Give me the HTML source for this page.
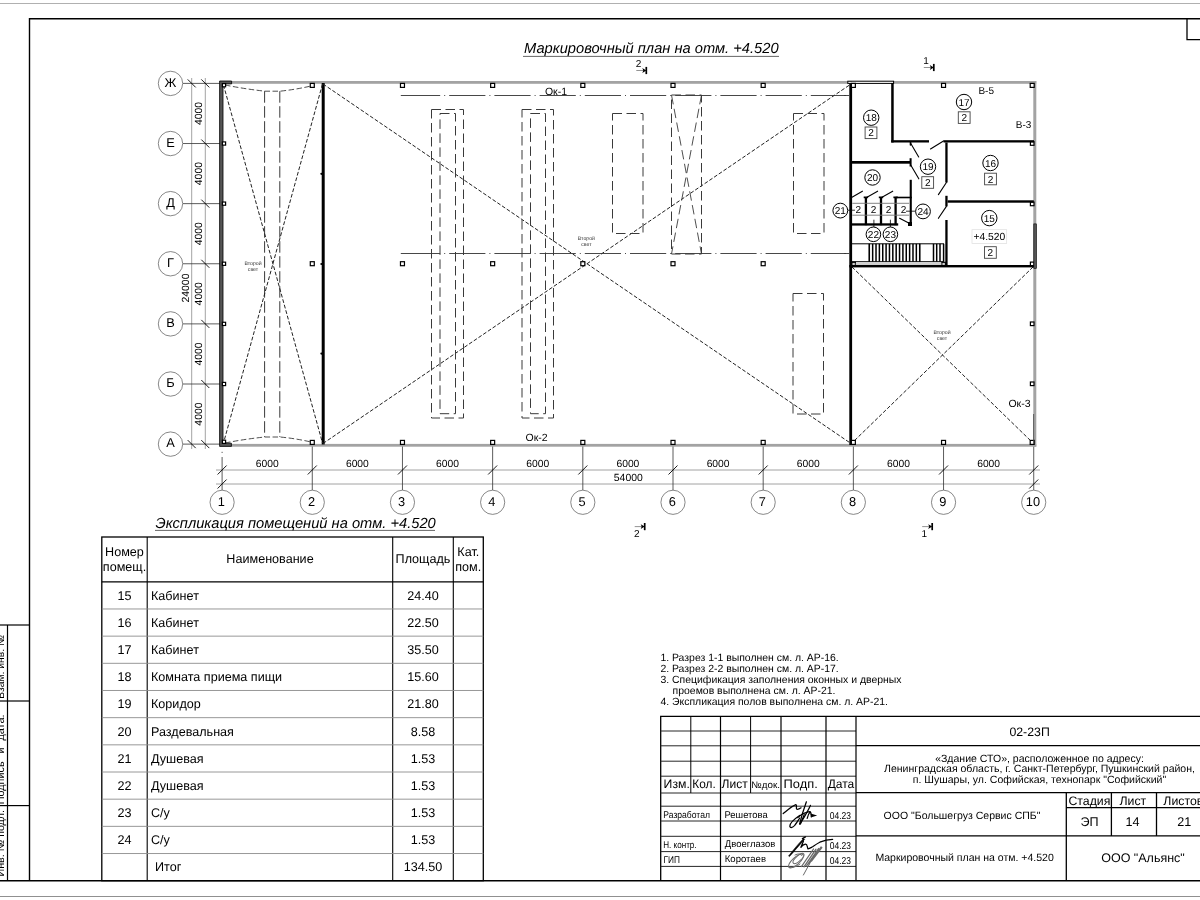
<!DOCTYPE html>
<html><head><meta charset="utf-8"><title>Маркировочный план</title>
<style>
html,body{margin:0;padding:0;background:#fff;width:1200px;height:900px;overflow:hidden}
svg{display:block}
text{font-family:"Liberation Sans", sans-serif;text-rendering:geometricPrecision}
svg{will-change:transform}
</style></head><body>
<svg width="1200" height="900" viewBox="0 0 1200 900" font-family='"Liberation Sans", sans-serif'>
<rect x="0" y="0" width="1200" height="900" fill="#fff"/>
<line x1="0" y1="3.5" x2="1200" y2="3.5" stroke="#b0b0b0" stroke-width="1.2" />
<line x1="0" y1="896.5" x2="1200" y2="896.5" stroke="#909090" stroke-width="1.2" />
<path d="M29.5 880.7 V18.7 H1200" fill="none" stroke="#000" stroke-width="1.4"/>
<line x1="0" y1="880.8" x2="1200" y2="880.8" stroke="#000" stroke-width="1.6" />
<path d="M1187 18.7 V39.7 H1200" fill="none" stroke="#000" stroke-width="1.3"/>
<line x1="7.5" y1="625" x2="7.5" y2="880.7" stroke="#000" stroke-width="1.2" />
<line x1="0" y1="625" x2="29.5" y2="625" stroke="#000" stroke-width="1.2" />
<line x1="0" y1="701" x2="29.5" y2="701" stroke="#000" stroke-width="1.2" />
<line x1="0" y1="805.6" x2="29.5" y2="805.6" stroke="#000" stroke-width="1.2" />
<text x="4.1" y="698.8" font-size="10.3" transform="rotate(-90 4.1 698.8)">Взам. инв. №</text>
<text x="4.1" y="804.2" font-size="10.8" transform="rotate(-90 4.1 804.2)">Подпись</text>
<text x="4.1" y="753.6" font-size="10.8" transform="rotate(-90 4.1 753.6)">и</text>
<text x="4.1" y="740.5" font-size="10.8" transform="rotate(-90 4.1 740.5)">дата.</text>
<text x="4.1" y="876.5" font-size="10.7" transform="rotate(-90 4.1 876.5)">Инв. № подл.</text>
<text x="524" y="52.9" font-size="14.7" text-anchor="start" fill="#000" font-style="italic">Маркировочный план на отм. +4.520</text>
<line x1="523" y1="56.4" x2="779" y2="56.4" stroke="#555" stroke-width="0.9" />
<line x1="191.7" y1="78" x2="191.7" y2="449" stroke="#8a8a8a" stroke-width="0.8" />
<line x1="205.3" y1="78" x2="205.3" y2="449" stroke="#8a8a8a" stroke-width="0.8" />
<line x1="183" y1="83.4" x2="220" y2="83.4" stroke="#333" stroke-width="0.8" />
<circle cx="170.5" cy="83.4" r="12.2" fill="#fff" stroke="#555" stroke-width="0.7"/>
<text x="170.5" y="86.5" font-size="12.8" text-anchor="middle" fill="#000" >Ж</text>
<line x1="201.3" y1="79.4" x2="209.3" y2="87.4" stroke="#000" stroke-width="0.9" />
<line x1="187.7" y1="79.4" x2="195.7" y2="87.4" stroke="#000" stroke-width="0.9" />
<line x1="183" y1="143.52" x2="220" y2="143.52" stroke="#333" stroke-width="0.8" />
<circle cx="170.5" cy="143.52" r="12.2" fill="#fff" stroke="#555" stroke-width="0.7"/>
<text x="170.5" y="146.62" font-size="12.8" text-anchor="middle" fill="#000" >Е</text>
<line x1="201.3" y1="139.52" x2="209.3" y2="147.52" stroke="#000" stroke-width="0.9" />
<line x1="183" y1="203.64" x2="220" y2="203.64" stroke="#333" stroke-width="0.8" />
<circle cx="170.5" cy="203.64" r="12.2" fill="#fff" stroke="#555" stroke-width="0.7"/>
<text x="170.5" y="206.73999999999998" font-size="12.8" text-anchor="middle" fill="#000" >Д</text>
<line x1="201.3" y1="199.64" x2="209.3" y2="207.64" stroke="#000" stroke-width="0.9" />
<line x1="183" y1="263.76" x2="220" y2="263.76" stroke="#333" stroke-width="0.8" />
<circle cx="170.5" cy="263.76" r="12.2" fill="#fff" stroke="#555" stroke-width="0.7"/>
<text x="170.5" y="266.86" font-size="12.8" text-anchor="middle" fill="#000" >Г</text>
<line x1="201.3" y1="259.76" x2="209.3" y2="267.76" stroke="#000" stroke-width="0.9" />
<line x1="183" y1="323.88" x2="220" y2="323.88" stroke="#333" stroke-width="0.8" />
<circle cx="170.5" cy="323.88" r="12.2" fill="#fff" stroke="#555" stroke-width="0.7"/>
<text x="170.5" y="326.98" font-size="12.8" text-anchor="middle" fill="#000" >В</text>
<line x1="201.3" y1="319.88" x2="209.3" y2="327.88" stroke="#000" stroke-width="0.9" />
<line x1="183" y1="384.0" x2="220" y2="384.0" stroke="#333" stroke-width="0.8" />
<circle cx="170.5" cy="384.0" r="12.2" fill="#fff" stroke="#555" stroke-width="0.7"/>
<text x="170.5" y="387.1" font-size="12.8" text-anchor="middle" fill="#000" >Б</text>
<line x1="201.3" y1="380.0" x2="209.3" y2="388.0" stroke="#000" stroke-width="0.9" />
<line x1="183" y1="444.12" x2="220" y2="444.12" stroke="#333" stroke-width="0.8" />
<circle cx="170.5" cy="444.12" r="12.2" fill="#fff" stroke="#555" stroke-width="0.7"/>
<text x="170.5" y="447.22" font-size="12.8" text-anchor="middle" fill="#000" >А</text>
<line x1="201.3" y1="440.12" x2="209.3" y2="448.12" stroke="#000" stroke-width="0.9" />
<line x1="187.7" y1="440.12" x2="195.7" y2="448.12" stroke="#000" stroke-width="0.9" />
<text x="202.2" y="113.46000000000001" font-size="10.4" text-anchor="middle" transform="rotate(-90 202.2 113.46000000000001)">4000</text>
<text x="202.2" y="173.57999999999998" font-size="10.4" text-anchor="middle" transform="rotate(-90 202.2 173.57999999999998)">4000</text>
<text x="202.2" y="233.7" font-size="10.4" text-anchor="middle" transform="rotate(-90 202.2 233.7)">4000</text>
<text x="202.2" y="293.82" font-size="10.4" text-anchor="middle" transform="rotate(-90 202.2 293.82)">4000</text>
<text x="202.2" y="353.94" font-size="10.4" text-anchor="middle" transform="rotate(-90 202.2 353.94)">4000</text>
<text x="202.2" y="414.06" font-size="10.4" text-anchor="middle" transform="rotate(-90 202.2 414.06)">4000</text>
<text x="188.9" y="288" font-size="10.4" text-anchor="middle" transform="rotate(-90 188.9 288)">24000</text>
<line x1="216" y1="470" x2="1040" y2="470" stroke="#8a8a8a" stroke-width="0.8" />
<line x1="216" y1="484" x2="1040" y2="484" stroke="#8a8a8a" stroke-width="0.8" />
<line x1="222.1" y1="457" x2="222.1" y2="490" stroke="#333" stroke-width="0.8" />
<line x1="222.1" y1="451.8" x2="222.1" y2="453" stroke="#333" stroke-width="0.8" />
<circle cx="222.1" cy="502.3" r="12.1" fill="#fff" stroke="#555" stroke-width="0.7"/>
<text x="221.29999999999998" y="506.1" font-size="12.8" text-anchor="middle" fill="#000" >1</text>
<line x1="217.6" y1="474.5" x2="226.6" y2="465.5" stroke="#000" stroke-width="0.9" />
<line x1="217.6" y1="488.5" x2="226.6" y2="479.5" stroke="#000" stroke-width="0.9" />
<line x1="312.28" y1="446" x2="312.28" y2="490" stroke="#333" stroke-width="0.8" />
<circle cx="312.28" cy="502.3" r="12.1" fill="#fff" stroke="#555" stroke-width="0.7"/>
<text x="311.47999999999996" y="506.1" font-size="12.8" text-anchor="middle" fill="#000" >2</text>
<line x1="307.78" y1="474.5" x2="316.78" y2="465.5" stroke="#000" stroke-width="0.9" />
<line x1="402.46000000000004" y1="446" x2="402.46000000000004" y2="490" stroke="#333" stroke-width="0.8" />
<circle cx="402.46000000000004" cy="502.3" r="12.1" fill="#fff" stroke="#555" stroke-width="0.7"/>
<text x="401.66" y="506.1" font-size="12.8" text-anchor="middle" fill="#000" >3</text>
<line x1="397.96000000000004" y1="474.5" x2="406.96000000000004" y2="465.5" stroke="#000" stroke-width="0.9" />
<line x1="492.64" y1="446" x2="492.64" y2="490" stroke="#333" stroke-width="0.8" />
<circle cx="492.64" cy="502.3" r="12.1" fill="#fff" stroke="#555" stroke-width="0.7"/>
<text x="491.84" y="506.1" font-size="12.8" text-anchor="middle" fill="#000" >4</text>
<line x1="488.14" y1="474.5" x2="497.14" y2="465.5" stroke="#000" stroke-width="0.9" />
<line x1="582.82" y1="446" x2="582.82" y2="490" stroke="#333" stroke-width="0.8" />
<circle cx="582.82" cy="502.3" r="12.1" fill="#fff" stroke="#555" stroke-width="0.7"/>
<text x="582.0200000000001" y="506.1" font-size="12.8" text-anchor="middle" fill="#000" >5</text>
<line x1="578.32" y1="474.5" x2="587.32" y2="465.5" stroke="#000" stroke-width="0.9" />
<line x1="673.0" y1="446" x2="673.0" y2="490" stroke="#333" stroke-width="0.8" />
<circle cx="673.0" cy="502.3" r="12.1" fill="#fff" stroke="#555" stroke-width="0.7"/>
<text x="672.2" y="506.1" font-size="12.8" text-anchor="middle" fill="#000" >6</text>
<line x1="668.5" y1="474.5" x2="677.5" y2="465.5" stroke="#000" stroke-width="0.9" />
<line x1="763.1800000000001" y1="446" x2="763.1800000000001" y2="490" stroke="#333" stroke-width="0.8" />
<circle cx="763.1800000000001" cy="502.3" r="12.1" fill="#fff" stroke="#555" stroke-width="0.7"/>
<text x="762.3800000000001" y="506.1" font-size="12.8" text-anchor="middle" fill="#000" >7</text>
<line x1="758.6800000000001" y1="474.5" x2="767.6800000000001" y2="465.5" stroke="#000" stroke-width="0.9" />
<line x1="853.36" y1="446" x2="853.36" y2="490" stroke="#333" stroke-width="0.8" />
<circle cx="853.36" cy="502.3" r="12.1" fill="#fff" stroke="#555" stroke-width="0.7"/>
<text x="852.5600000000001" y="506.1" font-size="12.8" text-anchor="middle" fill="#000" >8</text>
<line x1="848.86" y1="474.5" x2="857.86" y2="465.5" stroke="#000" stroke-width="0.9" />
<line x1="943.5400000000001" y1="446" x2="943.5400000000001" y2="490" stroke="#333" stroke-width="0.8" />
<circle cx="943.5400000000001" cy="502.3" r="12.1" fill="#fff" stroke="#555" stroke-width="0.7"/>
<text x="942.7400000000001" y="506.1" font-size="12.8" text-anchor="middle" fill="#000" >9</text>
<line x1="939.0400000000001" y1="474.5" x2="948.0400000000001" y2="465.5" stroke="#000" stroke-width="0.9" />
<line x1="1033.72" y1="446" x2="1033.72" y2="490" stroke="#333" stroke-width="0.8" />
<circle cx="1033.72" cy="502.3" r="12.1" fill="#fff" stroke="#555" stroke-width="0.7"/>
<text x="1032.92" y="506.1" font-size="12.8" text-anchor="middle" fill="#000" >10</text>
<line x1="1029.22" y1="474.5" x2="1038.22" y2="465.5" stroke="#000" stroke-width="0.9" />
<line x1="1029.22" y1="488.5" x2="1038.22" y2="479.5" stroke="#000" stroke-width="0.9" />
<text x="267.19" y="466.7" font-size="10.3" text-anchor="middle" fill="#000" >6000</text>
<text x="357.37" y="466.7" font-size="10.3" text-anchor="middle" fill="#000" >6000</text>
<text x="447.55" y="466.7" font-size="10.3" text-anchor="middle" fill="#000" >6000</text>
<text x="537.73" y="466.7" font-size="10.3" text-anchor="middle" fill="#000" >6000</text>
<text x="627.9100000000001" y="466.7" font-size="10.3" text-anchor="middle" fill="#000" >6000</text>
<text x="718.09" y="466.7" font-size="10.3" text-anchor="middle" fill="#000" >6000</text>
<text x="808.27" y="466.7" font-size="10.3" text-anchor="middle" fill="#000" >6000</text>
<text x="898.45" y="466.7" font-size="10.3" text-anchor="middle" fill="#000" >6000</text>
<text x="988.6300000000001" y="466.7" font-size="10.3" text-anchor="middle" fill="#000" >6000</text>
<text x="628.3" y="480.8" font-size="10.4" text-anchor="middle" fill="#000" >54000</text>
<line x1="636.3" y1="70.5" x2="643.8" y2="70.5" stroke="#777" stroke-width="0.8" />
<path d="M642.3 68.1 L646.3 70.5 L642.3 72.9 L643.3 70.5 Z" fill="#000"/>
<line x1="646.3" y1="66.9" x2="646.3" y2="74.1" stroke="#000" stroke-width="1.7" />
<text x="638.5" y="66.9" font-size="10" text-anchor="middle" fill="#000" >2</text>
<line x1="923.8" y1="67.5" x2="931.3" y2="67.5" stroke="#777" stroke-width="0.8" />
<path d="M929.8 65.1 L933.8 67.5 L929.8 69.9 L930.8 67.5 Z" fill="#000"/>
<line x1="933.8" y1="63.9" x2="933.8" y2="71.1" stroke="#000" stroke-width="1.7" />
<text x="926.0" y="63.9" font-size="10" text-anchor="middle" fill="#000" >1</text>
<line x1="634.7" y1="526.6" x2="642.2" y2="526.6" stroke="#777" stroke-width="0.8" />
<path d="M640.7 524.2 L644.7 526.6 L640.7 529.0 L641.7 526.6 Z" fill="#000"/>
<line x1="644.7" y1="523.0" x2="644.7" y2="530.2" stroke="#000" stroke-width="1.7" />
<text x="636.9000000000001" y="537.4" font-size="10" text-anchor="middle" fill="#000" >2</text>
<line x1="922.2" y1="526.6" x2="929.7" y2="526.6" stroke="#777" stroke-width="0.8" />
<path d="M928.2 524.2 L932.2 526.6 L928.2 529.0 L929.2 526.6 Z" fill="#000"/>
<line x1="932.2" y1="523.0" x2="932.2" y2="530.2" stroke="#000" stroke-width="1.7" />
<text x="924.4000000000001" y="537.4" font-size="10" text-anchor="middle" fill="#000" >1</text>
<rect x="231" y="81" width="617" height="2.8" fill="#a3a3a3"/>
<rect x="893" y="81" width="143.3" height="2.8" fill="#a3a3a3"/>
<rect x="231" y="443.9" width="805.3" height="2.8" fill="#a3a3a3"/>
<rect x="1033.3" y="81" width="3" height="365.7" fill="#a3a3a3"/>
<path d="M219.6 81 H231.6 V83.9 H223 V443.2 H231.4 V446.4 H219.6 Z" fill="#555" stroke="#000" stroke-width="0.8"/>
<rect x="321.7" y="83" width="3" height="361.5" fill="#000"/>
<rect x="849.3" y="81" width="2.8" height="364" fill="#000"/>
<rect x="847.8" y="81.2" width="45.8" height="2.2" fill="#fff" stroke="#000" stroke-width="1"/>
<line x1="223.5" y1="85" x2="322.5" y2="443" stroke="#222" stroke-width="1.0" stroke-dasharray="3.8 1.9"/>
<line x1="322.5" y1="84" x2="223.5" y2="443" stroke="#222" stroke-width="1.0" stroke-dasharray="3.8 1.9"/>
<path d="M225 85 Q245 89 265 91.2 L280 91.2 Q296 89.5 311 86" fill="none" stroke="#222" stroke-width="0.8" stroke-dasharray="5.5 2.5"/>
<path d="M225 443 Q245 439 265 437 L280 437 Q296 438.5 311 442" fill="none" stroke="#222" stroke-width="0.8" stroke-dasharray="5.5 2.5"/>
<line x1="264.6" y1="91.2" x2="264.6" y2="437" stroke="#222" stroke-width="0.9" stroke-dasharray="11.5 3.5"/>
<line x1="279.8" y1="91.2" x2="279.8" y2="437" stroke="#222" stroke-width="0.9" stroke-dasharray="11.5 3.5"/>
<line x1="323" y1="84" x2="851" y2="443.5" stroke="#222" stroke-width="1.0" stroke-dasharray="3.8 1.9"/>
<line x1="323" y1="443.5" x2="851" y2="84" stroke="#222" stroke-width="1.0" stroke-dasharray="3.8 1.9"/>
<line x1="852" y1="267" x2="1033" y2="443" stroke="#222" stroke-width="1.0" stroke-dasharray="3.8 1.9"/>
<line x1="1033" y1="267" x2="852" y2="443" stroke="#222" stroke-width="1.0" stroke-dasharray="3.8 1.9"/>
<line x1="400.8" y1="95.5" x2="404" y2="95.5" stroke="#333" stroke-width="0.9" />
<line x1="404" y1="95.5" x2="846" y2="95.5" stroke="#333" stroke-width="0.9" stroke-dasharray="36.2 4 1 4"/>
<line x1="844" y1="95.5" x2="849.3" y2="95.5" stroke="#333" stroke-width="0.9" />
<line x1="400.8" y1="253.5" x2="404" y2="253.5" stroke="#333" stroke-width="0.9" />
<line x1="404" y1="253.5" x2="846" y2="253.5" stroke="#333" stroke-width="0.9" stroke-dasharray="36.2 4 1 4"/>
<line x1="844" y1="253.5" x2="849.3" y2="253.5" stroke="#333" stroke-width="0.9" />
<rect x="431.5" y="109.5" width="32.0" height="308.5" fill="none" stroke="#3a3a3a" stroke-width="1" stroke-dasharray="9.5 4.5"/>
<rect x="440" y="113.5" width="15.5" height="300.2" fill="none" stroke="#3a3a3a" stroke-width="1" stroke-dasharray="9.5 4.5"/>
<rect x="522" y="109.5" width="31.5" height="308.5" fill="none" stroke="#3a3a3a" stroke-width="1" stroke-dasharray="9.5 4.5"/>
<rect x="530.5" y="113.5" width="15.0" height="300.2" fill="none" stroke="#3a3a3a" stroke-width="1" stroke-dasharray="9.5 4.5"/>
<rect x="612.5" y="113.5" width="30.5" height="120.0" fill="none" stroke="#3a3a3a" stroke-width="1" stroke-dasharray="9.5 4.5"/>
<rect x="671.5" y="95" width="30.0" height="159" fill="none" stroke="#3a3a3a" stroke-width="1" stroke-dasharray="9.5 4.5"/>
<line x1="671.5" y1="95" x2="701.5" y2="254" stroke="#3a3a3a" stroke-width="0.9" stroke-dasharray="9.5 4.5"/>
<line x1="701.5" y1="95" x2="671.5" y2="254" stroke="#3a3a3a" stroke-width="0.9" stroke-dasharray="9.5 4.5"/>
<rect x="793.5" y="113.5" width="30.5" height="120.0" fill="none" stroke="#3a3a3a" stroke-width="1" stroke-dasharray="9.5 4.5"/>
<rect x="793" y="293.5" width="30.5" height="120.5" fill="none" stroke="#3a3a3a" stroke-width="1" stroke-dasharray="9.5 4.5"/>
<text x="253" y="265.3" font-size="5.2" text-anchor="middle" fill="#333" >Второй</text>
<text x="253" y="271.3" font-size="5.2" text-anchor="middle" fill="#333" >свет</text>
<text x="586.4" y="240" font-size="5.2" text-anchor="middle" fill="#333" >Второй</text>
<text x="586.4" y="246" font-size="5.2" text-anchor="middle" fill="#333" >свет</text>
<text x="942" y="334" font-size="5.2" text-anchor="middle" fill="#333" >Второй</text>
<text x="942" y="340" font-size="5.2" text-anchor="middle" fill="#333" >свет</text>
<text x="556" y="94.7" font-size="10.5" text-anchor="middle" fill="#000" >Ок-1</text>
<text x="536.6" y="440.6" font-size="10.5" text-anchor="middle" fill="#000" >Ок-2</text>
<text x="1019.5" y="406.8" font-size="10.5" text-anchor="middle" fill="#000" >Ок-3</text>
<rect x="222.4" y="83.60000000000001" width="3.2" height="3.2" fill="#fff" stroke="#000" stroke-width="1.2"/>
<rect x="222.4" y="141.92000000000002" width="3.2" height="3.2" fill="#fff" stroke="#000" stroke-width="1.2"/>
<rect x="222.4" y="202.04" width="3.2" height="3.2" fill="#fff" stroke="#000" stroke-width="1.2"/>
<rect x="222.4" y="262.15999999999997" width="3.2" height="3.2" fill="#fff" stroke="#000" stroke-width="1.2"/>
<rect x="222.4" y="322.28" width="3.2" height="3.2" fill="#fff" stroke="#000" stroke-width="1.2"/>
<rect x="222.4" y="382.4" width="3.2" height="3.2" fill="#fff" stroke="#000" stroke-width="1.2"/>
<rect x="222.4" y="440.2" width="3.2" height="3.2" fill="#fff" stroke="#000" stroke-width="1.2"/>
<rect x="310.28" y="83.4" width="4" height="4" fill="#fff" stroke="#000" stroke-width="1.2"/>
<rect x="310.28" y="440.4" width="4" height="4" fill="#fff" stroke="#000" stroke-width="1.2"/>
<rect x="400.46000000000004" y="83.4" width="4" height="4" fill="#fff" stroke="#000" stroke-width="1.2"/>
<rect x="400.46000000000004" y="440.4" width="4" height="4" fill="#fff" stroke="#000" stroke-width="1.2"/>
<rect x="490.64" y="83.4" width="4" height="4" fill="#fff" stroke="#000" stroke-width="1.2"/>
<rect x="490.64" y="440.4" width="4" height="4" fill="#fff" stroke="#000" stroke-width="1.2"/>
<rect x="580.82" y="83.4" width="4" height="4" fill="#fff" stroke="#000" stroke-width="1.2"/>
<rect x="580.82" y="440.4" width="4" height="4" fill="#fff" stroke="#000" stroke-width="1.2"/>
<rect x="671.0" y="83.4" width="4" height="4" fill="#fff" stroke="#000" stroke-width="1.2"/>
<rect x="671.0" y="440.4" width="4" height="4" fill="#fff" stroke="#000" stroke-width="1.2"/>
<rect x="761.1800000000001" y="83.4" width="4" height="4" fill="#fff" stroke="#000" stroke-width="1.2"/>
<rect x="761.1800000000001" y="440.4" width="4" height="4" fill="#fff" stroke="#000" stroke-width="1.2"/>
<rect x="851.36" y="83.4" width="4" height="4" fill="#fff" stroke="#000" stroke-width="1.2"/>
<rect x="851.36" y="440.4" width="4" height="4" fill="#fff" stroke="#000" stroke-width="1.2"/>
<rect x="941.5400000000001" y="83.4" width="4" height="4" fill="#fff" stroke="#000" stroke-width="1.2"/>
<rect x="941.5400000000001" y="440.4" width="4" height="4" fill="#fff" stroke="#000" stroke-width="1.2"/>
<rect x="1030.2" y="83.4" width="4" height="4" fill="#fff" stroke="#000" stroke-width="1.2"/>
<rect x="1030.2" y="440.4" width="4" height="4" fill="#fff" stroke="#000" stroke-width="1.2"/>
<rect x="310.28" y="261.7" width="4" height="4" fill="#fff" stroke="#000" stroke-width="1.2"/>
<rect x="400.46000000000004" y="261.7" width="4" height="4" fill="#fff" stroke="#000" stroke-width="1.2"/>
<rect x="490.64" y="261.7" width="4" height="4" fill="#fff" stroke="#000" stroke-width="1.2"/>
<rect x="580.82" y="261.7" width="4" height="4" fill="#fff" stroke="#000" stroke-width="1.2"/>
<rect x="671.0" y="261.7" width="4" height="4" fill="#fff" stroke="#000" stroke-width="1.2"/>
<rect x="761.1800000000001" y="261.7" width="4" height="4" fill="#fff" stroke="#000" stroke-width="1.2"/>
<rect x="1030.4" y="141.7" width="3.6" height="3.6" fill="#fff" stroke="#000" stroke-width="1.2"/>
<rect x="1030.4" y="202.1" width="3.6" height="3.6" fill="#fff" stroke="#000" stroke-width="1.2"/>
<rect x="1030.4" y="262.09999999999997" width="3.6" height="3.6" fill="#fff" stroke="#000" stroke-width="1.2"/>
<rect x="1030.4" y="322.0" width="3.6" height="3.6" fill="#fff" stroke="#000" stroke-width="1.2"/>
<rect x="1030.4" y="382.0" width="3.6" height="3.6" fill="#fff" stroke="#000" stroke-width="1.2"/>
<rect x="852.0" y="262.3" width="3.4" height="3.4" fill="#fff" stroke="#000" stroke-width="1.2"/>
<rect x="941.9" y="262.3" width="3.4" height="3.4" fill="#fff" stroke="#000" stroke-width="1.2"/>
<circle cx="321.4" cy="173.8" r="1.1" fill="#000" stroke="#000" stroke-width="0"/>
<circle cx="321.4" cy="264" r="1.1" fill="#000" stroke="#000" stroke-width="0"/>
<circle cx="321.4" cy="353.6" r="1.1" fill="#000" stroke="#000" stroke-width="0"/>
<rect x="891.2" y="83" width="2.5" height="59.5" fill="#000"/>
<rect x="891.2" y="140.2" width="37.799999999999955" height="2.3000000000000114" fill="#000"/>
<rect x="943.5" y="140.2" width="90.5" height="2.3000000000000114" fill="#000"/>
<line x1="910.5" y1="143" x2="918.7" y2="157" stroke="#000" stroke-width="1.1" stroke-linecap="round"/>
<line x1="910.5" y1="142.5" x2="910.5" y2="145" stroke="#000" stroke-width="1.6" stroke-linecap="round"/>
<line x1="930.5" y1="149" x2="943.5" y2="141" stroke="#000" stroke-width="1.1" stroke-linecap="round"/>
<rect x="945.3" y="142.5" width="2.300000000000068" height="40.0" fill="#000"/>
<line x1="946.4" y1="182.5" x2="938.4" y2="194.6" stroke="#000" stroke-width="1.1" stroke-linecap="round"/>
<rect x="945.3" y="195.8" width="2.300000000000068" height="10.599999999999994" fill="#000"/>
<rect x="947.6" y="200.3" width="86.19999999999993" height="2.3999999999999773" fill="#000"/>
<line x1="946.4" y1="206.4" x2="938.4" y2="218.3" stroke="#000" stroke-width="1.1" stroke-linecap="round"/>
<rect x="945.3" y="220" width="2.300000000000068" height="45.5" fill="#000"/>
<rect x="852" y="161" width="59" height="2.6999999999999886" fill="#000"/>
<rect x="909.6" y="158.2" width="2.0" height="8.300000000000011" fill="#000"/>
<line x1="911" y1="165.5" x2="918.8" y2="178.8" stroke="#000" stroke-width="1.1" stroke-linecap="round"/>
<rect x="909.7" y="179.8" width="2.099999999999909" height="45.79999999999998" fill="#000"/>
<rect x="864.75" y="197.2" width="2.2999999999999545" height="28.0" fill="#000"/>
<rect x="863.6999999999999" y="196.5" width="4.400000000000091" height="1.6999999999999886" fill="#000"/>
<rect x="879.85" y="197.2" width="2.2999999999999545" height="28.0" fill="#000"/>
<rect x="878.8" y="196.5" width="4.400000000000091" height="1.6999999999999886" fill="#000"/>
<rect x="894.45" y="197.2" width="2.2999999999999545" height="28.0" fill="#000"/>
<rect x="893.4" y="196.5" width="4.400000000000091" height="1.6999999999999886" fill="#000"/>
<rect x="852" y="223.3" width="46.200000000000045" height="2.299999999999983" fill="#000"/>
<rect x="895.6" y="196.7" width="16.199999999999932" height="1.6000000000000227" fill="#000"/>
<rect x="908" y="222" width="4" height="4" fill="#000"/>
<line x1="899.6" y1="218.3" x2="909.2" y2="223.3" stroke="#000" stroke-width="1.1" stroke-linecap="round"/>
<line x1="852" y1="197.2" x2="862.4" y2="191.2" stroke="#000" stroke-width="1.1" stroke-linecap="round"/>
<line x1="867" y1="197.2" x2="877.6" y2="191.2" stroke="#000" stroke-width="1.1" stroke-linecap="round"/>
<line x1="882" y1="197.2" x2="892.7" y2="191.2" stroke="#000" stroke-width="1.1" stroke-linecap="round"/>
<line x1="852" y1="243.8" x2="944" y2="243.8" stroke="#000" stroke-width="1" />
<line x1="852" y1="261.7" x2="944" y2="261.7" stroke="#000" stroke-width="1" />
<line x1="869.3" y1="243.8" x2="869.3" y2="261.7" stroke="#000" stroke-width="1" />
<line x1="919.7" y1="243.8" x2="919.7" y2="261.7" stroke="#000" stroke-width="1" />
<line x1="869.3" y1="243.8" x2="869.3" y2="261.7" stroke="#000" stroke-width="1.5" />
<line x1="872.66" y1="243.8" x2="872.66" y2="261.7" stroke="#000" stroke-width="1.5" />
<line x1="876.02" y1="243.8" x2="876.02" y2="261.7" stroke="#000" stroke-width="1.5" />
<line x1="879.38" y1="243.8" x2="879.38" y2="261.7" stroke="#000" stroke-width="1.5" />
<line x1="882.74" y1="243.8" x2="882.74" y2="261.7" stroke="#000" stroke-width="1.5" />
<line x1="886.0999999999999" y1="243.8" x2="886.0999999999999" y2="261.7" stroke="#000" stroke-width="1.5" />
<line x1="889.4599999999999" y1="243.8" x2="889.4599999999999" y2="261.7" stroke="#000" stroke-width="1.5" />
<line x1="892.8199999999999" y1="243.8" x2="892.8199999999999" y2="261.7" stroke="#000" stroke-width="1.5" />
<line x1="896.18" y1="243.8" x2="896.18" y2="261.7" stroke="#000" stroke-width="1.5" />
<line x1="899.54" y1="243.8" x2="899.54" y2="261.7" stroke="#000" stroke-width="1.5" />
<line x1="902.9" y1="243.8" x2="902.9" y2="261.7" stroke="#000" stroke-width="1.5" />
<line x1="906.26" y1="243.8" x2="906.26" y2="261.7" stroke="#000" stroke-width="1.5" />
<line x1="909.62" y1="243.8" x2="909.62" y2="261.7" stroke="#000" stroke-width="1.5" />
<line x1="912.9799999999999" y1="243.8" x2="912.9799999999999" y2="261.7" stroke="#000" stroke-width="1.5" />
<line x1="916.3399999999999" y1="243.8" x2="916.3399999999999" y2="261.7" stroke="#000" stroke-width="1.5" />
<line x1="919.6999999999999" y1="243.8" x2="919.6999999999999" y2="261.7" stroke="#000" stroke-width="1.5" />
<line x1="933.5" y1="243.8" x2="933.5" y2="261.7" stroke="#000" stroke-width="1.5" />
<line x1="936.7" y1="243.8" x2="936.7" y2="261.7" stroke="#000" stroke-width="1.5" />
<line x1="940" y1="243.8" x2="940" y2="261.7" stroke="#000" stroke-width="1.5" />
<line x1="943.6" y1="243.8" x2="943.6" y2="261.7" stroke="#000" stroke-width="1.5" />
<line x1="852" y1="264" x2="944" y2="264" stroke="#888" stroke-width="0.8" />
<rect x="849.3" y="265" width="184.70000000000005" height="2.3999999999999773" fill="#000"/>
<rect x="1033.8" y="223.9" width="2.6" height="44.4" fill="#555" stroke="#000" stroke-width="0.6"/>
<line x1="1033.6" y1="414" x2="1033.6" y2="444" stroke="#444" stroke-width="0.8"/>
<circle cx="871.2" cy="117.7" r="7.7" fill="#fff" stroke="#000" stroke-width="1.0"/>
<text x="871.2" y="121.2" font-size="10" text-anchor="middle" fill="#000" >18</text>
<rect x="865.1" y="127.00000000000001" width="11.8" height="11.6" fill="#fff" stroke="#444" stroke-width="0.9"/>
<text x="871" y="136.4" font-size="10" text-anchor="middle" fill="#000" >2</text>
<circle cx="964" cy="102" r="7.7" fill="#fff" stroke="#000" stroke-width="1.0"/>
<text x="964" y="105.5" font-size="10" text-anchor="middle" fill="#000" >17</text>
<rect x="958.3000000000001" y="111.8" width="11.8" height="11.6" fill="#fff" stroke="#444" stroke-width="0.9"/>
<text x="964.2" y="121.19999999999999" font-size="10" text-anchor="middle" fill="#000" >2</text>
<circle cx="990.5" cy="163" r="7.7" fill="#fff" stroke="#000" stroke-width="1.0"/>
<text x="990.5" y="166.5" font-size="10" text-anchor="middle" fill="#000" >16</text>
<rect x="984.6" y="173.2" width="11.8" height="11.6" fill="#fff" stroke="#444" stroke-width="0.9"/>
<text x="990.5" y="182.6" font-size="10" text-anchor="middle" fill="#000" >2</text>
<circle cx="928" cy="166.7" r="7.7" fill="#fff" stroke="#000" stroke-width="1.0"/>
<text x="928" y="170.2" font-size="10" text-anchor="middle" fill="#000" >19</text>
<rect x="921.8000000000001" y="176.7" width="11.8" height="11.6" fill="#fff" stroke="#444" stroke-width="0.9"/>
<text x="927.7" y="186.1" font-size="10" text-anchor="middle" fill="#000" >2</text>
<circle cx="872.5" cy="177.5" r="7.7" fill="#fff" stroke="#000" stroke-width="1.0"/>
<text x="872.5" y="181.0" font-size="10" text-anchor="middle" fill="#000" >20</text>
<circle cx="989.3" cy="218.1" r="7.7" fill="#fff" stroke="#000" stroke-width="1.0"/>
<text x="989.3" y="221.6" font-size="10" text-anchor="middle" fill="#000" >15</text>
<rect x="984.5" y="246.7" width="11.8" height="11.6" fill="#fff" stroke="#444" stroke-width="0.9"/>
<text x="990.4" y="256.1" font-size="10" text-anchor="middle" fill="#000" >2</text>
<rect x="972" y="229.7" width="34.7" height="13.7" fill="#fff" stroke="#ddd" stroke-width="0.7"/>
<text x="989.3" y="240" font-size="10.3" text-anchor="middle" fill="#000" >+4.520</text>
<line x1="852.3" y1="203.3" x2="909.2" y2="203.3" stroke="#777" stroke-width="0.9" />
<line x1="852.3" y1="215.2" x2="909.2" y2="215.2" stroke="#777" stroke-width="0.9" />
<text x="858.3" y="213.1" font-size="10" text-anchor="middle" fill="#000" >2</text>
<text x="873.5" y="213.1" font-size="10" text-anchor="middle" fill="#000" >2</text>
<text x="888.5" y="213.1" font-size="10" text-anchor="middle" fill="#000" >2</text>
<text x="903.5" y="213.1" font-size="10" text-anchor="middle" fill="#000" >2</text>
<line x1="848" y1="210.2" x2="855" y2="210.2" stroke="#000" stroke-width="0.8" />
<line x1="906" y1="211.2" x2="915.5" y2="211.2" stroke="#000" stroke-width="0.8" />
<line x1="873.9" y1="219.7" x2="873.9" y2="227" stroke="#000" stroke-width="0.8" />
<line x1="890.4" y1="219.7" x2="890.4" y2="227" stroke="#000" stroke-width="0.8" />
<circle cx="840.3" cy="210.6" r="7.4" fill="#fff" stroke="#000" stroke-width="1.0"/>
<text x="840.3" y="214.1" font-size="10" text-anchor="middle" fill="#000" >21</text>
<circle cx="923" cy="211.4" r="7.4" fill="#fff" stroke="#000" stroke-width="1.0"/>
<text x="923" y="214.9" font-size="10" text-anchor="middle" fill="#000" >24</text>
<circle cx="873.4" cy="234.3" r="7.3" fill="#fff" stroke="#000" stroke-width="1.0"/>
<text x="873.4" y="237.8" font-size="10" text-anchor="middle" fill="#000" >22</text>
<circle cx="890.4" cy="234.3" r="7.3" fill="#fff" stroke="#000" stroke-width="1.0"/>
<text x="890.4" y="237.8" font-size="10" text-anchor="middle" fill="#000" >23</text>
<text x="986.2" y="94" font-size="10" text-anchor="middle" fill="#000" >В-5</text>
<text x="1023.5" y="127.8" font-size="10" text-anchor="middle" fill="#000" >В-3</text>
<text x="155.5" y="527.6" font-size="14.7" text-anchor="start" fill="#000" font-style="italic">Экспликация помещений на отм. +4.520</text>
<line x1="155" y1="530.4" x2="435" y2="530.4" stroke="#555" stroke-width="0.9" />
<rect x="101.8" y="537" width="381.5" height="343.70000000000005" fill="none" stroke="#000" stroke-width="1.3"/>
<line x1="147.2" y1="537" x2="147.2" y2="880.7" stroke="#000" stroke-width="1.1" />
<line x1="392.7" y1="537" x2="392.7" y2="880.7" stroke="#000" stroke-width="1.1" />
<line x1="453.3" y1="537" x2="453.3" y2="880.7" stroke="#000" stroke-width="1.1" />
<line x1="101.8" y1="581.8" x2="483.3" y2="581.8" stroke="#000" stroke-width="1.3" />
<line x1="101.8" y1="608.9727272727272" x2="483.3" y2="608.9727272727272" stroke="#8c8c8c" stroke-width="0.9" />
<line x1="101.8" y1="636.1454545454545" x2="483.3" y2="636.1454545454545" stroke="#8c8c8c" stroke-width="0.9" />
<line x1="101.8" y1="663.3181818181818" x2="483.3" y2="663.3181818181818" stroke="#8c8c8c" stroke-width="0.9" />
<line x1="101.8" y1="690.4909090909091" x2="483.3" y2="690.4909090909091" stroke="#8c8c8c" stroke-width="0.9" />
<line x1="101.8" y1="717.6636363636363" x2="483.3" y2="717.6636363636363" stroke="#8c8c8c" stroke-width="0.9" />
<line x1="101.8" y1="744.8363636363637" x2="483.3" y2="744.8363636363637" stroke="#8c8c8c" stroke-width="0.9" />
<line x1="101.8" y1="772.0090909090909" x2="483.3" y2="772.0090909090909" stroke="#8c8c8c" stroke-width="0.9" />
<line x1="101.8" y1="799.1818181818182" x2="483.3" y2="799.1818181818182" stroke="#8c8c8c" stroke-width="0.9" />
<line x1="101.8" y1="826.3545454545455" x2="483.3" y2="826.3545454545455" stroke="#8c8c8c" stroke-width="0.9" />
<line x1="101.8" y1="853.5272727272727" x2="483.3" y2="853.5272727272727" stroke="#8c8c8c" stroke-width="0.9" />
<text x="124.5" y="555.8" font-size="12.6" text-anchor="middle" fill="#000" >Номер</text>
<text x="124.5" y="570.8" font-size="12.6" text-anchor="middle" fill="#000" >помещ.</text>
<text x="270" y="563.4" font-size="12.6" text-anchor="middle" fill="#000" >Наименование</text>
<text x="423" y="563.3" font-size="12.6" text-anchor="middle" fill="#000" >Площадь</text>
<text x="468.3" y="556.4" font-size="12.6" text-anchor="middle" fill="#000" >Кат.</text>
<text x="468.3" y="570.9" font-size="12.6" text-anchor="middle" fill="#000" >пом.</text>
<text x="124.5" y="599.6863636363636" font-size="12.6" text-anchor="middle" fill="#000" >15</text>
<text x="151.0" y="599.6863636363636" font-size="12.6" text-anchor="start" fill="#000" >Кабинет</text>
<text x="423" y="599.6863636363636" font-size="12.6" text-anchor="middle" fill="#000" >24.40</text>
<text x="124.5" y="626.8590909090908" font-size="12.6" text-anchor="middle" fill="#000" >16</text>
<text x="151.0" y="626.8590909090908" font-size="12.6" text-anchor="start" fill="#000" >Кабинет</text>
<text x="423" y="626.8590909090908" font-size="12.6" text-anchor="middle" fill="#000" >22.50</text>
<text x="124.5" y="654.0318181818182" font-size="12.6" text-anchor="middle" fill="#000" >17</text>
<text x="151.0" y="654.0318181818182" font-size="12.6" text-anchor="start" fill="#000" >Кабинет</text>
<text x="423" y="654.0318181818182" font-size="12.6" text-anchor="middle" fill="#000" >35.50</text>
<text x="124.5" y="681.2045454545454" font-size="12.6" text-anchor="middle" fill="#000" >18</text>
<text x="151.0" y="681.2045454545454" font-size="12.6" text-anchor="start" fill="#000" >Комната приема пищи</text>
<text x="423" y="681.2045454545454" font-size="12.6" text-anchor="middle" fill="#000" >15.60</text>
<text x="124.5" y="708.3772727272727" font-size="12.6" text-anchor="middle" fill="#000" >19</text>
<text x="151.0" y="708.3772727272727" font-size="12.6" text-anchor="start" fill="#000" >Коридор</text>
<text x="423" y="708.3772727272727" font-size="12.6" text-anchor="middle" fill="#000" >21.80</text>
<text x="124.5" y="735.55" font-size="12.6" text-anchor="middle" fill="#000" >20</text>
<text x="151.0" y="735.55" font-size="12.6" text-anchor="start" fill="#000" >Раздевальная</text>
<text x="423" y="735.55" font-size="12.6" text-anchor="middle" fill="#000" >8.58</text>
<text x="124.5" y="762.7227272727273" font-size="12.6" text-anchor="middle" fill="#000" >21</text>
<text x="151.0" y="762.7227272727273" font-size="12.6" text-anchor="start" fill="#000" >Душевая</text>
<text x="423" y="762.7227272727273" font-size="12.6" text-anchor="middle" fill="#000" >1.53</text>
<text x="124.5" y="789.8954545454545" font-size="12.6" text-anchor="middle" fill="#000" >22</text>
<text x="151.0" y="789.8954545454545" font-size="12.6" text-anchor="start" fill="#000" >Душевая</text>
<text x="423" y="789.8954545454545" font-size="12.6" text-anchor="middle" fill="#000" >1.53</text>
<text x="124.5" y="817.0681818181819" font-size="12.6" text-anchor="middle" fill="#000" >23</text>
<text x="151.0" y="817.0681818181819" font-size="12.6" text-anchor="start" fill="#000" >С/у</text>
<text x="423" y="817.0681818181819" font-size="12.6" text-anchor="middle" fill="#000" >1.53</text>
<text x="124.5" y="844.2409090909091" font-size="12.6" text-anchor="middle" fill="#000" >24</text>
<text x="151.0" y="844.2409090909091" font-size="12.6" text-anchor="start" fill="#000" >С/у</text>
<text x="423" y="844.2409090909091" font-size="12.6" text-anchor="middle" fill="#000" >1.53</text>
<text x="155.0" y="871.4136363636363" font-size="12.6" text-anchor="start" fill="#000" >Итог</text>
<text x="423" y="871.4136363636363" font-size="12.6" text-anchor="middle" fill="#000" >134.50</text>
<text x="660.4" y="660.9" font-size="10.45" text-anchor="start" fill="#000" >1. Разрез 1-1 выполнен см. л. АР-16.</text>
<text x="660.4" y="671.8" font-size="10.45" text-anchor="start" fill="#000" >2. Разрез 2-2 выполнен см. л. АР-17.</text>
<text x="660.4" y="682.6" font-size="10.45" text-anchor="start" fill="#000" >3. Спецификация заполнения оконных и дверных</text>
<text x="672.6" y="693.8" font-size="10.45" text-anchor="start" fill="#000" >проемов выполнена см. л. АР-21.</text>
<text x="660.4" y="705.4" font-size="10.45" text-anchor="start" fill="#000" >4. Экспликация полов выполнена см. л. АР-21.</text>
<path d="M660.7 880.7 V716.3 H1200" fill="none" stroke="#000" stroke-width="1.3"/>
<line x1="660.7" y1="731" x2="856" y2="731" stroke="#262626" stroke-width="1.0" />
<line x1="660.7" y1="745.8" x2="856" y2="745.8" stroke="#262626" stroke-width="1.0" />
<line x1="660.7" y1="761.2" x2="856" y2="761.2" stroke="#262626" stroke-width="1.0" />
<line x1="660.7" y1="776.2" x2="856" y2="776.2" stroke="#262626" stroke-width="1.0" />
<line x1="660.7" y1="793" x2="856" y2="793" stroke="#262626" stroke-width="1.0" />
<line x1="660.7" y1="806.2" x2="856" y2="806.2" stroke="#262626" stroke-width="1.0" />
<line x1="660.7" y1="821" x2="856" y2="821" stroke="#262626" stroke-width="1.0" />
<line x1="660.7" y1="836.3" x2="856" y2="836.3" stroke="#262626" stroke-width="1.0" />
<line x1="660.7" y1="851.6" x2="856" y2="851.6" stroke="#262626" stroke-width="1.0" />
<line x1="660.7" y1="866.4" x2="856" y2="866.4" stroke="#262626" stroke-width="1.0" />
<line x1="720.5" y1="716.3" x2="720.5" y2="880.7" stroke="#000" stroke-width="1.2" />
<line x1="781" y1="716.3" x2="781" y2="880.7" stroke="#000" stroke-width="1.2" />
<line x1="826" y1="716.3" x2="826" y2="880.7" stroke="#000" stroke-width="1.2" />
<line x1="856" y1="716.3" x2="856" y2="880.7" stroke="#000" stroke-width="1.2" />
<line x1="690.8" y1="716.3" x2="690.8" y2="793" stroke="#000" stroke-width="1.0" />
<line x1="750.6" y1="716.3" x2="750.6" y2="793" stroke="#000" stroke-width="1.0" />
<text x="663.6" y="788.3" font-size="12.2" text-anchor="start" textLength="26.2" lengthAdjust="spacingAndGlyphs">Изм.</text>
<text x="692.3" y="788.3" font-size="12.2" text-anchor="start" textLength="23.4" lengthAdjust="spacingAndGlyphs">Кол.</text>
<text x="721.5" y="788.3" font-size="12.2" text-anchor="start" textLength="26.2" lengthAdjust="spacingAndGlyphs">Лист</text>
<text x="751.3" y="788.3" font-size="9.6" text-anchor="start" textLength="28.6" lengthAdjust="spacingAndGlyphs">№док.</text>
<text x="783.6" y="788.3" font-size="12.2" text-anchor="start" textLength="34.2" lengthAdjust="spacingAndGlyphs">Подп.</text>
<text x="827.7" y="788.3" font-size="12.2" text-anchor="start" textLength="26.6" lengthAdjust="spacingAndGlyphs">Дата</text>
<text x="663.3" y="818.3" font-size="9.7" text-anchor="start" textLength="46.6" lengthAdjust="spacingAndGlyphs">Разработал</text>
<text x="724.5" y="817.6" font-size="9.7" text-anchor="start" textLength="43.2" lengthAdjust="spacingAndGlyphs">Решетова</text>
<text x="663.3" y="847.6" font-size="9.7" text-anchor="start" textLength="33.3" lengthAdjust="spacingAndGlyphs">Н. контр.</text>
<text x="724.8" y="847.2" font-size="9.7" text-anchor="start" textLength="50.4" lengthAdjust="spacingAndGlyphs">Двоеглазов</text>
<text x="663.6" y="862.6" font-size="9.7" text-anchor="start" textLength="16.4" lengthAdjust="spacingAndGlyphs">ГИП</text>
<text x="724.8" y="862.4" font-size="9.7" text-anchor="start" textLength="41.2" lengthAdjust="spacingAndGlyphs">Коротаев</text>
<text x="829.8" y="819.2" font-size="10" text-anchor="start" textLength="21.2" lengthAdjust="spacingAndGlyphs">04.23</text>
<text x="829.8" y="849" font-size="10" text-anchor="start" textLength="21.2" lengthAdjust="spacingAndGlyphs">04.23</text>
<text x="829.8" y="864" font-size="10" text-anchor="start" textLength="21.2" lengthAdjust="spacingAndGlyphs">04.23</text>
<line x1="856" y1="745.7" x2="1200" y2="745.7" stroke="#000" stroke-width="1.3" />
<line x1="856" y1="792.7" x2="1200" y2="792.7" stroke="#000" stroke-width="1.3" />
<line x1="856" y1="835.9" x2="1200" y2="835.9" stroke="#000" stroke-width="1.3" />
<line x1="1066.3" y1="792.7" x2="1066.3" y2="880.7" stroke="#000" stroke-width="1.3" />
<line x1="1111.4" y1="792.7" x2="1111.4" y2="835.9" stroke="#000" stroke-width="1.3" />
<line x1="1156.5" y1="792.7" x2="1156.5" y2="835.9" stroke="#000" stroke-width="1.3" />
<line x1="1066.3" y1="807.6" x2="1200" y2="807.6" stroke="#000" stroke-width="1.3" />
<text x="1029.6" y="735.8" font-size="12.3" text-anchor="middle" fill="#000" >02-23П</text>
<text x="1039.5" y="761.5" font-size="10.53" text-anchor="middle" fill="#000" >«Здание СТО», расположенное по адресу:</text>
<text x="1039.5" y="772.2" font-size="10.53" text-anchor="middle" fill="#000" >Ленинградская область, г. Санкт-Петербург, Пушкинский район,</text>
<text x="1039.5" y="782.7" font-size="10.53" text-anchor="middle" fill="#000" >п. Шушары, ул. Софийская, технопарк "Софийский"</text>
<text x="962" y="818.7" font-size="10.53" text-anchor="middle" fill="#000" >ООО "Большегруз Сервис СПБ"</text>
<text x="1089.4" y="805.2" font-size="12.3" text-anchor="middle" fill="#000" >Стадия</text>
<text x="1132.9" y="805.2" font-size="12.3" text-anchor="middle" fill="#000" >Лист</text>
<text x="1183.3" y="805.2" font-size="12.3" text-anchor="middle" fill="#000" >Листов</text>
<text x="1089.5" y="826.4" font-size="12.6" text-anchor="middle" fill="#000" >ЭП</text>
<text x="1132.4" y="826.4" font-size="12.6" text-anchor="middle" fill="#000" >14</text>
<text x="1184.2" y="826.4" font-size="12.6" text-anchor="middle" fill="#000" >21</text>
<text x="964.6" y="860.8" font-size="10.53" text-anchor="middle" fill="#000" >Маркировочный план на отм. +4.520</text>
<text x="1143" y="861.5" font-size="12.5" text-anchor="middle" fill="#000" >ООО "Альянс"</text>
<g fill="none" stroke="#000" stroke-width="1.25" stroke-linecap="round" stroke-linejoin="round"><path d="M783.2 813.5 C787 810.5 792 806 795.9 804.6 C797.5 805.5 795.5 808.5 796.8 809.2 C798 809.6 800 808.5 801.1 807.8"/><path d="M806.4 801.8 C804.5 807 801.5 816 799.6 824.1"/><path d="M799.6 815.4 C795 818.5 789.5 823.5 789.8 826.3 C790.3 828.3 793 827.8 795 825 C797 822.5 798.5 820 799.8 818"/><path d="M810.4 805.4 C807.5 812 803 819 800.2 823.7"/><path d="M804.2 814.6 C803 818 801.5 821 800.4 824"/><path d="M797.7 817.6 C800 815.5 802.5 813.8 804.5 813.1 C806.5 812.4 808.5 811.8 809.5 811.6"/><path d="M807.2 818.4 C808 815.5 809 813 810.2 811.6 C811.5 813 811 815.5 811.3 816.9"/></g>
<path d="M810.5 813.6 L817.2 815.4 L811.5 817.3 Z" fill="#000"/>
<path d="M788.6 856 C793 850.5 798.5 843.5 803.6 838.4 L804.6 839.4 C799.5 845 794 851.5 789.4 856.6 Z" fill="#000" stroke="#000" stroke-width="0.6"/>
<g fill="none" stroke="#000" stroke-width="1.25" stroke-linecap="round" stroke-linejoin="round"><path d="M802.4 838.6 L805.5 836.9"/><path d="M803.4 841.2 C802.5 843.5 801.5 845.5 800.9 847.3 C802 845.5 803.5 844.5 805.5 844.2 C807.5 844 807 847 808 848.9 C809.5 848.5 811 847.6 812.6 846.8 C815 845 817.5 843.3 819.8 842.2 C824 840.5 829 839.5 832.6 839.4"/></g>
<g fill="none" stroke="#6a6a6a" stroke-width="1" stroke-linecap="round" stroke-linejoin="round"><ellipse cx="796" cy="861" rx="9.5" ry="3.6" transform="rotate(-42 796 861)"/><ellipse cx="798.5" cy="858.5" rx="7" ry="2.6" transform="rotate(-42 798.5 858.5)"/><path d="M789 867 C792 868.5 797 866.5 800 864 M795 855 C798 853.5 801 853.5 801.5 855.5"/><path d="M801.5 866.5 L813.5 849 M804 866.8 L816 849.2 M806.5 866 L818.5 848.5 M809 864 L821 847 M811.5 861 L821.8 847.5" stroke-width="1.3"/><path d="M803.4 875 L809.6 863.7"/></g>
</svg>
</body></html>
